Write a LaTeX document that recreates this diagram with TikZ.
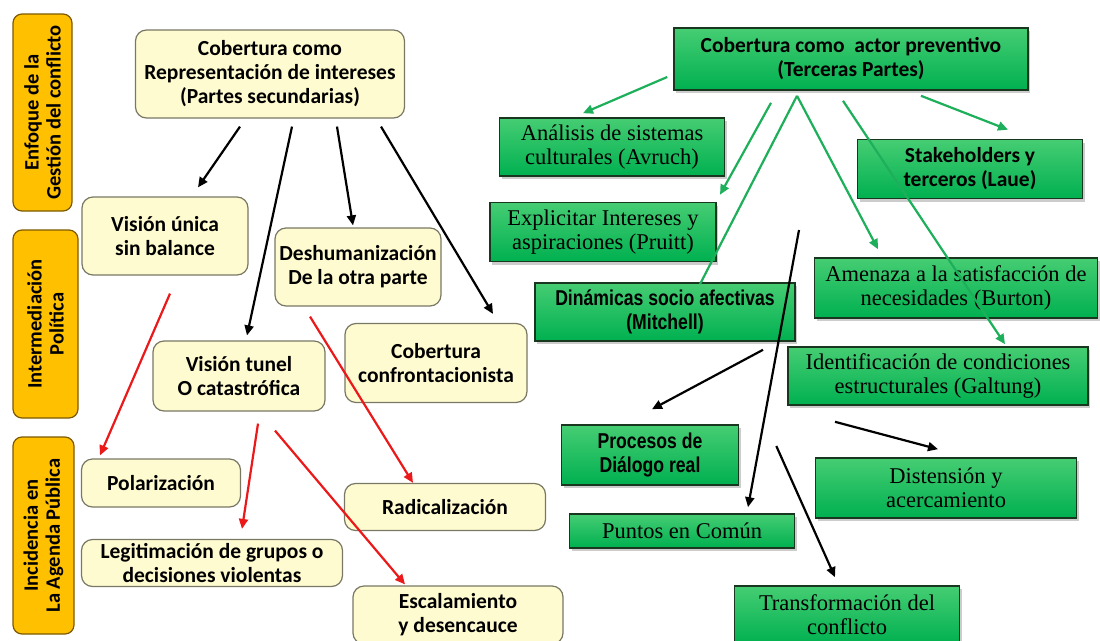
\documentclass[tikz,border=0pt]{standalone}
\usepackage{fontspec}
\setmainfont{Carlito}
\newfontfamily\serifcaja{Liberation Serif}
\newfontfamily\narrowcaja[FakeStretch=0.82]{Liberation Sans}
\usepackage{xcolor}
\usepackage{tikz}
\usetikzlibrary{arrows.meta,calc,shadows}
\definecolor{cajaamarilla}{RGB}{255,251,208}
\definecolor{bordeamarillo}{RGB}{120,120,100}
\definecolor{naranja}{RGB}{255,192,0}
\definecolor{bordenaranja}{RGB}{125,90,0}
\definecolor{verde}{RGB}{0,176,80}
\definecolor{verdeclaro}{RGB}{70,205,115}
\definecolor{bordeverde}{RGB}{25,55,30}
\definecolor{flechaverde}{RGB}{30,175,90}
\definecolor{flecharoja}{RGB}{235,25,25}

\begin{document}
\begin{tikzpicture}[x=1pt, y=-1pt,
	etiqueta/.style={draw=bordenaranja, line width=1.2pt, fill=naranja, rounded corners=9pt, rotate=90, align=center, inner sep=0pt, font=\fontsize{20.5}{22}\selectfont\bfseries},
	amarilla/.style={draw=bordeamarillo, line width=1.2pt, fill=cajaamarilla, rounded corners=11pt, align=center, inner sep=0pt, font=\fontsize{21.5}{24}\selectfont\bfseries},
	verdecaja/.style={draw=bordeverde, line width=1.6pt, top color=verdeclaro, bottom color=verde, align=center, inner sep=0pt, drop shadow={shadow xshift=2pt, shadow yshift=-3pt, opacity=0.4}},
	calibri/.style={font=\fontsize{21.5}{24}\selectfont\bfseries},
	cambria/.style={font=\serifcaja\fontsize{22.5}{24}\selectfont},
	angosta/.style={font=\narrowcaja\fontsize{21.5}{24}\selectfont\bfseries},
	negra/.style={-{Triangle[length=10pt,width=9pt]}, line width=2.2pt, black},
	roja/.style={-{Triangle[length=10pt,width=9pt]}, line width=2.2pt, flecharoja},
	verdef/.style={-{Triangle[length=10pt,width=9pt]}, line width=2.2pt, flechaverde}]
	\useasboundingbox[fill=white] (0,0) rectangle (1100,640);

	\node[etiqueta, minimum width=197pt, minimum height=59pt] (enfoque) at (42.5,112.5) {Enfoque de la\\Gestión del conflicto};
	\node[etiqueta, minimum width=188pt, minimum height=65pt] (intermed) at (45.5,324) {Intermediación\\Política};
	\node[etiqueta, minimum width=197pt, minimum height=61pt] (incidencia) at (43.5,535.5) {Incidencia en\\La Agenda Pública};

	\node[amarilla, minimum width=269pt, minimum height=88pt] (rep) at (270,74) {Cobertura como\\Representación de intereses\\(Partes secundarias)};
	\node[amarilla, minimum width=166pt, minimum height=78pt] (unica) at (165,236) {Visión única\\sin balance};
	\node[amarilla, minimum width=166pt, minimum height=78pt] (deshum) at (358,267) {Deshumanización\\De la otra parte};
	\node[amarilla, minimum width=172pt, minimum height=70pt] (tunel) at (239,376) {Visión tunel\\O catastrófica};
	\node[amarilla, minimum width=182pt, minimum height=79pt] (confront) at (436,363) {Cobertura\\confrontacionista};
	\node[amarilla, minimum width=159pt, minimum height=48pt] (polar) at (161,483) {Polarización};
	\node[amarilla, minimum width=261pt, minimum height=47pt] (legit) at (212,563) {Legitimación de grupos o\\decisiones violentas};
	\node[amarilla, minimum width=201pt, minimum height=47pt] (radical) at (445,507) {Radicalización};
	\node[amarilla, minimum width=210pt, minimum height=58pt] (escal) at (458,615) {Escalamiento\\y desencauce};

	\node[verdecaja, calibri, minimum width=354pt, minimum height=62pt] (actor) at (851,59) {Cobertura como~ actor preventivo\\(Terceras Partes)};
	\node[verdecaja, cambria, minimum width=225pt, minimum height=58pt] (analisis) at (612,147) {Análisis de sistemas\\culturales (Avruch)};
	\node[verdecaja, calibri, minimum width=225pt, minimum height=59pt] (stake) at (970,169) {Stakeholders y\\terceros (Laue)};
	\node[verdecaja, cambria, minimum width=226pt, minimum height=59pt] (explic) at (603,232) {Explicitar Intereses y\\aspiraciones (Pruitt)};
	\node[verdecaja, cambria, minimum width=283pt, minimum height=60pt] (amenaza) at (956,288) {Amenaza a la satisfacción de\\necesidades (Burton)};
	\node[verdecaja, angosta, minimum width=260pt, minimum height=58pt] (dinam) at (665,312) {Dinámicas socio afectivas\\(Mitchell)};
	\node[verdecaja, cambria, minimum width=300pt, minimum height=58pt] (identif) at (938,376) {Identificación de condiciones\\estructurales (Galtung)};
	\node[verdecaja, angosta, minimum width=177pt, minimum height=60pt] (procesos) at (650,455) {Procesos de\\Diálogo real};
	\node[verdecaja, cambria, minimum width=261pt, minimum height=60pt] (disten) at (946,488) {Distensión y\\acercamiento};
	\node[verdecaja, cambria, minimum width=225pt, minimum height=34pt] (puntos) at (682,531) {Puntos en Común};
	\node[verdecaja, cambria, minimum width=225pt, minimum height=58pt] (transf) at (847,615) {Transformación del\\conflicto};
	\coordinate (comun) at (799,230);

	\draw[negra] ($(rep.south)+(-30,8)$) -- ($(unica.north)+(33,-9)$);
	\draw[negra] ($(rep.south)+(22,8)$) -- ($(tunel.north)+(8,-5)$);
	\draw[negra] ($(rep.south)+(67,8)$) -- ($(deshum.north)+(-5,-2)$);
	\draw[negra] ($(rep.south)+(111,8)$) -- ($(confront.north)+(57,-9)$);

	\draw[roja] ($(unica.south)+(5,18)$) -- ($(polar.north)+(-61,-3)$);
	\draw[roja] ($(deshum.south)+(-48,10)$) -- ($(radical.north)+(-32,0)$);
	\draw[roja] ($(tunel.south)+(19,12)$) -- ($(legit.north)+(30,-10)$);
	\draw[roja] ($(tunel.south)+(36,19)$) -- ($(escal.north)+(-53,-1)$);

	\draw[verdef] ($(actor.west)+(-6,18)$) -- ($(analisis.north)+(-29,-4)$);
	\draw[verdef] ($(actor.south)+(-80,12)$) -- ($(explic.north)+(117,-7)$);
	\draw[flechaverde, line width=2.2pt] ($(actor.south)+(-54,5)$) -- ($(dinam.north)+(35,2)$);
	\draw[verdef] ($(actor.south)+(-54,5)$) -- ($(amenaza.north)+(-78,-8)$);
	\draw[verdef] ($(actor.south)+(-8,10)$) -- ($(identif.north)+(67,-2)$);
	\draw[verdef] ($(actor.south)+(70,5)$) -- ($(stake.north)+(38,-9)$);

	\draw[negra] ($(dinam.south)+(98,8)$) -- ($(procesos.north)+(2,-15)$);
	\draw[negra] (comun) -- ($(puntos.north)+(66,-6)$);
	\draw[negra] ($(identif.south)+(-103,16)$) -- ($(disten.north)+(-8,-8)$);
	\draw[negra] ($(procesos.east)+(37,-9)$) -- ($(transf.north)+(-12,-8)$);
\end{tikzpicture}
\end{document}
